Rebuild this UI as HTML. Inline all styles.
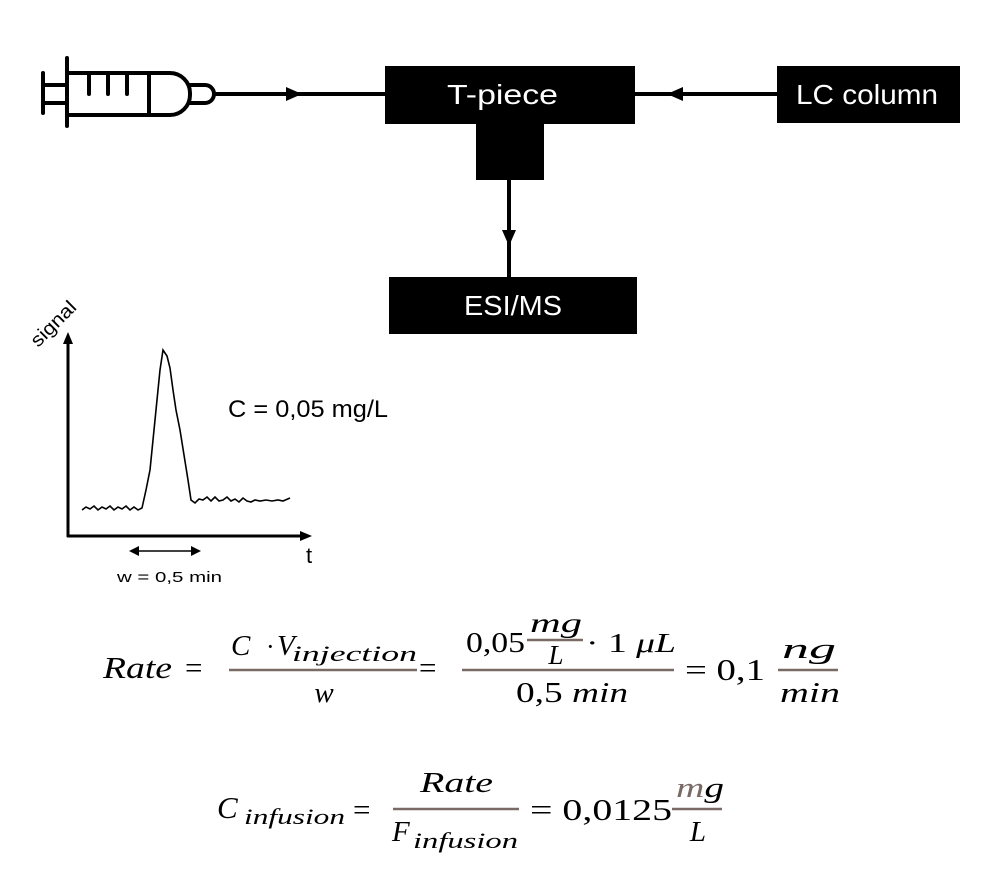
<!DOCTYPE html>
<html><head><meta charset="utf-8"><style>
html,body{margin:0;padding:0;background:#fff}
svg{display:block}
.s{font-family:"Liberation Sans",sans-serif}
.m{font-family:"Liberation Serif",serif;font-style:italic}
.n{font-family:"Liberation Serif",serif}
</style></head><body>
<svg width="1002" height="886" viewBox="0 0 1002 886" xmlns="http://www.w3.org/2000/svg">
<g fill="none" stroke="#000" stroke-width="4" stroke-linecap="round" stroke-linejoin="round">
<line x1="43" y1="73" x2="43" y2="113"/>
<line x1="43" y1="85" x2="67" y2="85"/>
<line x1="43" y1="103" x2="67" y2="103"/>
<line x1="67" y1="58" x2="67" y2="126"/>
<path d="M67 73 H170 A20 20 0 0 1 190 93 V95 A20 20 0 0 1 170 115 H67"/>
<line x1="89" y1="73" x2="89" y2="94"/>
<line x1="108" y1="73" x2="108" y2="94"/>
<line x1="127" y1="73" x2="127" y2="94"/>
<line x1="149" y1="73" x2="149" y2="115"/>
<path d="M190 85 H205 A8 8 0 0 1 205 103 H190"/>
</g>
<line x1="213" y1="94" x2="386" y2="94" stroke="#000" stroke-width="4"/>
<polygon points="286,87 302,94 286,101" fill="#000"/>
<rect x="385" y="66" width="250" height="58" fill="#000"/>
<rect x="476" y="122" width="68" height="58" fill="#000"/>
<text x="447" y="104" class="s" font-size="28" fill="#fff" textLength="111" lengthAdjust="spacingAndGlyphs">T-piece</text>
<rect x="777" y="66" width="183" height="57" fill="#000"/>
<text x="796" y="104" class="s" font-size="28" fill="#fff" textLength="142" lengthAdjust="spacingAndGlyphs">LC column</text>
<line x1="634" y1="94" x2="777" y2="94" stroke="#000" stroke-width="4"/>
<polygon points="683,87 667,94 683,101" fill="#000"/>
<line x1="509" y1="180" x2="509" y2="278" stroke="#000" stroke-width="4"/>
<polygon points="502,230 509,246 516,230" fill="#000"/>
<rect x="389" y="277" width="248" height="57" fill="#000"/>
<text x="464" y="315" class="s" font-size="28" fill="#fff" textLength="98" lengthAdjust="spacingAndGlyphs">ESI/MS</text>
<line x1="68" y1="537" x2="68" y2="342" stroke="#000" stroke-width="3"/>
<polygon points="63,344 68,332 73,344" fill="#000"/>
<line x1="67" y1="536" x2="302" y2="536" stroke="#000" stroke-width="3"/>
<polygon points="300,531 312,536 300,541" fill="#000"/>
<path d="M82 510 L86 507 L90 509 L94 506 L98 510 L102 507 L106 509 L110 506 L114 510 L118 507 L122 509 L126 506 L130 510 L134 507 L138 510 L142 508 L146 490 L150 470 L152 450 L155 420 L158 390 L160 370 L163 350 L167 356 L170 368 L173 390 L176 410 L180 430 L184 455 L188 480 L191 500 L195 503 L199 499 L203 500 L207 497 L211 501 L215 497 L219 501 L223 500 L227 497 L231 501 L235 499 L239 502 L243 498 L247 501 L251 502 L255 500 L260 501 L266 500 L272 501 L278 500 L283 501 L290 498" fill="none" stroke="#000" stroke-width="1.6"/>
<line x1="138" y1="551" x2="192" y2="551" stroke="#000" stroke-width="1.5"/>
<polygon points="139,546 129,551 139,556" fill="#000"/>
<polygon points="191,546 201,551 191,556" fill="#000"/>
<text x="117" y="582" class="s" font-size="15" textLength="105" lengthAdjust="spacingAndGlyphs">w = 0,5 min</text>
<text x="306" y="563" class="s" font-size="22">t</text>
<text x="0" y="0" class="s" font-size="19" transform="translate(38,348) rotate(-45)" textLength="56" lengthAdjust="spacingAndGlyphs">signal</text>
<text x="228" y="417" class="s" font-size="24" textLength="160" lengthAdjust="spacingAndGlyphs">C = 0,05 mg/L</text>
<g fill="#000">
<text x="103" y="678" class="m" font-size="31" textLength="69" lengthAdjust="spacingAndGlyphs">Rate</text>
<text x="185" y="678" class="n" font-size="31">=</text>
<text x="231" y="655" class="m" font-size="29">C</text>
<text x="266" y="655" class="n" font-size="26">·</text>
<text x="277" y="655" class="m" font-size="29">V</text>
<text x="292" y="661" class="m" font-size="22" textLength="125" lengthAdjust="spacingAndGlyphs">injection</text>
<line x1="229" y1="670" x2="417" y2="670" stroke="#7a6a66" stroke-width="2.5"/>
<text x="324" y="702" class="m" font-size="29" text-anchor="middle">w</text>
<text x="419" y="678" class="n" font-size="31">=</text>
<text x="466" y="652" class="n" font-size="29" textLength="59" lengthAdjust="spacingAndGlyphs">0,05</text>
<text x="530" y="632" class="m" font-size="27" textLength="52" lengthAdjust="spacingAndGlyphs">mg</text>
<line x1="527" y1="640" x2="583" y2="640" stroke="#7a6a66" stroke-width="2.5"/>
<text x="556" y="664" class="m" font-size="27" text-anchor="middle">L</text>
<text x="586" y="652" class="n" font-size="27" textLength="90" lengthAdjust="spacingAndGlyphs">· 1 <tspan class="m">μL</tspan></text>
<line x1="462" y1="670" x2="674" y2="670" stroke="#7a6a66" stroke-width="2.5"/>
<text x="516" y="702" class="n" font-size="29" textLength="112" lengthAdjust="spacingAndGlyphs">0,5 <tspan class="m">min</tspan></text>
<text x="685" y="680" class="n" font-size="31" textLength="80" lengthAdjust="spacingAndGlyphs">= 0,1</text>
<text x="782" y="658" class="m" font-size="29" textLength="54" lengthAdjust="spacingAndGlyphs">ng</text>
<line x1="778" y1="670" x2="838" y2="670" stroke="#7a6a66" stroke-width="2.5"/>
<text x="780" y="702" class="m" font-size="29" textLength="60" lengthAdjust="spacingAndGlyphs">min</text>
<text x="217" y="818" class="m" font-size="31">C</text>
<text x="244" y="824" class="m" font-size="22" textLength="101" lengthAdjust="spacingAndGlyphs">infusion</text>
<text x="353" y="820" class="n" font-size="31">=</text>
<text x="420" y="792" class="m" font-size="29" textLength="73" lengthAdjust="spacingAndGlyphs">Rate</text>
<line x1="393" y1="809" x2="519" y2="809" stroke="#7a6a66" stroke-width="2.5"/>
<text x="392" y="841" class="m" font-size="29">F</text>
<text x="413" y="848" class="m" font-size="22" textLength="105" lengthAdjust="spacingAndGlyphs">infusion</text>
<text x="530" y="820" class="n" font-size="31" textLength="142" lengthAdjust="spacingAndGlyphs">= 0,0125</text>
<text x="676" y="797" class="m" font-size="29" textLength="48" lengthAdjust="spacingAndGlyphs"><tspan fill="#7a6a66">m</tspan>g</text>
<line x1="672" y1="809" x2="722" y2="809" stroke="#7a6a66" stroke-width="2.5"/>
<text x="698" y="841" class="m" font-size="29" text-anchor="middle">L</text>
</g>
</svg>
</body></html>
